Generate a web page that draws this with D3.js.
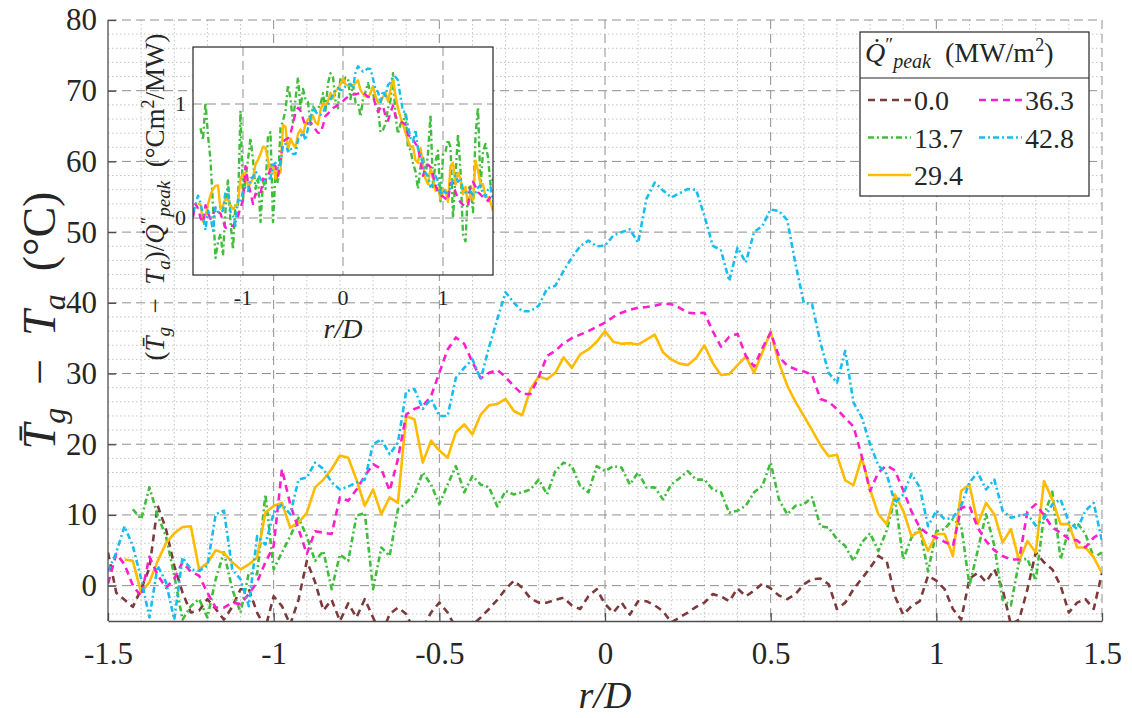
<!DOCTYPE html>
<html>
<head>
<meta charset="utf-8">
<script src="https://cdn.jsdelivr.net/npm/d3@7"></script>
<style>
body { margin: 0; background: #fff; }
svg text { font-family: 'Liberation Serif', 'Times New Roman', 'DejaVu Serif', serif; fill: #262626; }
</style>
</head>
<body>
<script>
// radial position r/D
var rD = [-1.5,-1.475,-1.45,-1.425,-1.4,-1.375,-1.35,-1.325,-1.3,-1.275,
  -1.25,-1.225,-1.2,-1.175,-1.15,-1.125,-1.1,-1.075,-1.05,-1.025,
  -1,-0.975,-0.95,-0.925,-0.9,-0.875,-0.85,-0.825,-0.8,-0.775,
  -0.75,-0.725,-0.7,-0.675,-0.65,-0.625,-0.6,-0.575,-0.55,-0.525,
  -0.5,-0.475,-0.45,-0.425,-0.4,-0.375,-0.35,-0.325,-0.3,-0.275,
  -0.25,-0.225,-0.2,-0.175,-0.15,-0.125,-0.1,-0.075,-0.05,-0.025,
  0,0.025,0.05,0.075,0.1,0.125,0.15,0.175,0.2,0.225,
  0.25,0.275,0.3,0.325,0.35,0.375,0.4,0.425,0.45,0.475,
  0.5,0.525,0.55,0.575,0.6,0.625,0.65,0.675,0.7,0.725,
  0.75,0.775,0.8,0.825,0.85,0.875,0.9,0.925,0.95,0.975,
  1,1.025,1.05,1.075,1.1,1.125,1.15,1.175,1.2,1.225,
  1.25,1.275,1.3,1.325,1.35,1.375,1.4,1.425,1.45,1.475,
  1.5];

// Tg - Ta (degC) for each peak heat flux
var q00 = [4.7,-1.0,-2.0,-3.0,-0.5,2.5,11.3,8.0,2.8,-1.0,
  -3.8,-3.5,-1.9,-3.3,-4.8,-3.0,-0.5,-0.5,-3.8,-6.0,
  -1.5,-2.9,-5.5,-2.0,3.5,0.5,-3.5,-2.0,-5.0,-2.5,
  -4.5,-1.9,-4.5,-7.0,-4.0,-3.1,-4.0,-6.5,-6.0,-3.8,
  -2.4,-3.8,-6.0,-6.5,-5.5,-4.5,-3.3,-2.0,-0.5,0.7,
  -0.3,-1.8,-2.4,-2.4,-2.0,-1.7,-2.8,-3.3,-1.5,-0.5,
  -2.6,-3.8,-2.4,-4.1,-2.2,-2.2,-2.8,-3.6,-5.2,-4.5,
  -3.8,-3.0,-2.4,-1.2,-1.5,-2.2,-0.4,-1.5,-0.7,0.3,
  -0.4,-1.4,-1.9,-1.2,0.2,0.9,1.0,0.2,-3.3,-2.4,
  -0.5,1.0,2.5,4.2,3.5,-1.5,-4.1,-2.9,-2.2,1.4,
  0.7,-0.5,-3.3,-4.8,1.0,1.8,0.5,2.3,-0.5,-5.5,
  -4.8,-0.5,4.7,3.3,2.3,0.0,-3.8,-2.4,-1.9,-3.3,
  1.8];
var q137 = [null,null,null,10.8,9.4,13.9,9.9,7.0,1.4,-4.8,
  -2.9,-1.9,-4.5,0.9,4.7,-0.5,-3.8,1.8,1.6,12.9,
  2.3,4.7,7.0,9.6,7.0,3.5,4.9,-0.5,4.4,3.5,
  9.9,10.3,-0.5,5.4,4.2,10.8,11.7,12.9,16.0,14.3,
  11.5,14.3,16.9,13.2,15.5,14.3,13.9,11.2,13.4,12.9,
  13.2,13.6,15.0,12.9,16.2,17.4,16.9,14.1,13.2,16.9,
  16.2,16.9,16.7,14.3,16.0,13.9,13.9,12.2,14.3,15.2,
  16.2,15.0,15.0,13.6,13.2,10.3,10.6,11.3,13.2,14.1,
  17.4,12.2,10.1,11.3,11.5,12.5,8.4,8.2,6.6,5.6,
  3.5,6.1,7.4,4.9,7.8,12.4,3.7,6.8,8.1,2.0,
  7.7,8.0,9.4,8.5,0.0,5.0,10.1,5.7,-2.0,-2.8,
  3.5,3.8,0.7,9.9,13.3,3.7,8.0,8.9,7.3,4.0,
  4.7];
var q294 = [null,null,3.7,3.5,-1.0,0.5,3.5,6.0,7.4,8.3,
  8.4,2.3,3.2,5.0,4.6,3.3,2.3,3.0,4.0,10.3,
  11.3,11.7,8.2,8.9,10.3,13.9,15.0,16.5,18.4,18.1,
  15.0,11.3,13.6,10.1,12.5,11.7,24.0,23.5,17.4,20.5,
  19.1,18.1,21.7,22.8,21.4,24.2,25.5,25.7,26.4,24.7,
  24.1,27.8,29.6,29.2,30.1,32.3,30.8,32.7,33.4,34.5,
  36.0,34.5,34.2,34.3,34.1,34.8,35.5,33.0,32.0,31.4,
  31.2,32.2,34.0,31.5,29.8,29.9,31.2,32.4,30.1,33.0,
  35.9,31.5,28.3,26.0,24.0,22.0,19.9,18.3,18.5,14.9,
  14.2,18.1,13.6,10.1,8.7,12.9,10.6,7.0,7.7,4.9,
  7.3,7.3,4.2,13.4,14.3,8.7,11.7,10.1,6.1,8.0,
  3.5,6.3,4.7,14.8,12.2,8.7,8.7,5.4,5.4,4.0,
  1.8];
var q363 = [0.3,4.5,3.0,0.0,-1.5,4.1,1.5,-0.3,1.0,3.3,
  2.0,1.4,-1.0,-3.1,-3.1,-2.4,-2.6,-1.2,0.5,3.3,
  5.6,16.5,11.5,8.0,4.5,7.7,7.5,7.3,12.5,12.0,
  13.6,15.5,17.2,16.5,13.4,17.9,24.2,25.0,25.4,26.8,
  30.1,33.4,35.1,34.2,31.6,29.3,30.1,30.5,29.5,28.2,
  27.1,27.1,29.5,32.5,33.2,34.3,35.0,35.5,36.0,36.6,
  37.2,38.0,38.6,39.0,39.3,39.4,39.6,39.9,39.8,39.3,
  38.6,38.5,38.6,36.0,33.8,35.2,35.6,32.5,31.0,33.6,
  35.8,32.4,31.1,30.6,30.3,29.8,26.4,26.0,25.0,23.7,
  22.5,18.3,13.4,16.0,17.0,16.3,13.5,10.5,8.2,7.3,
  6.8,6.2,5.6,11.0,11.3,8.2,6.3,5.0,4.2,3.7,
  3.7,10.5,11.5,10.0,8.2,7.5,6.6,6.4,5.4,6.8,
  7.5];
var q428 = [2.0,4.7,8.4,5.6,1.0,-4.5,2.8,0.5,-4.8,4.0,
  2.3,2.1,2.8,10.1,10.6,2.3,0.9,-2.9,7.0,5.8,
  10.3,11.5,10.1,15.0,15.3,17.4,16.5,14.6,13.6,14.0,
  14.6,15.0,20.0,20.7,18.6,20.2,27.5,27.8,25.0,26.4,
  24.0,24.0,29.4,30.8,32.0,29.2,33.7,37.7,41.5,40.0,
  38.8,38.8,39.6,42.0,42.4,44.5,46.4,48.0,48.8,48.0,
  48.1,49.5,50.0,50.4,48.5,54.7,57.0,55.9,54.9,55.5,
  56.1,56.0,52.3,48.1,47.4,43.1,47.8,45.7,50.0,50.9,
  53.2,53.0,51.7,45.5,40.0,39.8,34.4,30.1,28.7,33.2,
  25.9,23.8,20.0,17.0,15.8,11.7,12.9,15.8,13.9,8.4,
  10.6,9.4,9.6,11.3,14.6,16.0,13.6,15.0,10.6,9.6,
  9.9,10.1,8.5,9.5,11.5,12.2,9.0,8.0,10.6,11.7,
  6.3];

var qPeak = [0.0, 13.7, 29.4, 36.3, 42.8];
var seriesLabels = ["0.0", "13.7", "29.4", "36.3", "42.8"];
var seriesData = [q00, q137, q294, q363, q428];
var seriesColors = ["#7d3a3a", "#41bd3c", "#ffbb00", "#ff1ecb", "#16bdf0"];
var seriesDash = ["7,5", "6,3,2,3", null, "7,5", "6,3,2,3"];

var xTicks = [-1.5, -1, -0.5, 0, 0.5, 1, 1.5];
var xTickLabels = ["-1.5", "-1", "-0.5", "0", "0.5", "1", "1.5"];
var yTicks = [0, 10, 20, 30, 40, 50, 60, 70, 80];
var insetXTicks = [-1, 0, 1];
var insetYTicks = [0, 1];

var serif = "'Liberation Serif', 'Times New Roman', 'DejaVu Serif', serif";

var width = 1132;
var height = 718;
var margin = {left: 108, right: 30, top: 20, bottom: 97};
var plotRight = width - margin.right;
var plotBottom = height - margin.bottom;

var svg = d3.select("body").append("svg").attr("width", width).attr("height", height);

var x = d3.scaleLinear().domain([-1.5, 1.5]).range([margin.left, plotRight]);
var y = d3.scaleLinear().domain([-5, 80]).range([plotBottom, margin.top]);

// minor grid (dotted)
var xMinor = x.ticks(30).filter(function(d) { return Math.abs(d * 2 - Math.round(d * 2)) > 1e-6; });
var yMinor = y.ticks(40).filter(function(d) { return d % 10 != 0; });

var grid = svg.append("g");
grid.selectAll(".vminor").data(xMinor).join("line")
  .attr("x1", function(d) { return x(d); }).attr("x2", function(d) { return x(d); })
  .attr("y1", margin.top).attr("y2", plotBottom)
  .style("stroke", "#c4c4c4").style("stroke-dasharray", "1.5,2.5");
grid.selectAll(".hminor").data(yMinor).join("line")
  .attr("y1", function(d) { return y(d); }).attr("y2", function(d) { return y(d); })
  .attr("x1", margin.left).attr("x2", plotRight)
  .style("stroke", "#c4c4c4").style("stroke-dasharray", "1.5,2.5");
// major grid (dashed)
grid.selectAll(".vmajor").data(xTicks.slice(1)).join("line")
  .attr("x1", function(d) { return x(d); }).attr("x2", function(d) { return x(d); })
  .attr("y1", margin.top).attr("y2", plotBottom)
  .style("stroke", "#8f8f8f").style("stroke-dasharray", "9,5");
grid.selectAll(".hmajor").data(yTicks).join("line")
  .attr("y1", function(d) { return y(d); }).attr("y2", function(d) { return y(d); })
  .attr("x1", margin.left).attr("x2", plotRight)
  .style("stroke", "#8f8f8f").style("stroke-dasharray", "9,5");

svg.append("clipPath").attr("id", "mainclip").append("rect")
  .attr("x", margin.left).attr("y", margin.top)
  .attr("width", plotRight - margin.left).attr("height", plotBottom - margin.top);

var mainLine = d3.line()
  .defined(function(d) { return d[1] != null; })
  .x(function(d) { return x(d[0]); })
  .y(function(d) { return y(d[1]); });

var lines = svg.append("g").attr("clip-path", "url(#mainclip)");
seriesData.forEach(function(s, k) {
  lines.append("path")
    .datum(rD.map(function(r, i) { return [r, s[i]]; }))
    .attr("d", mainLine)
    .style("fill", "none")
    .style("stroke", seriesColors[k])
    .style("stroke-width", 2.6)
    .style("stroke-linejoin", "round")
    .style("stroke-dasharray", seriesDash[k]);
});

// axes (MATLAB style, ticks inside)
var xAxis = d3.axisBottom(x).tickValues(xTicks)
  .tickFormat(function(d, i) { return xTickLabels[i]; })
  .tickSizeInner(-8).tickSizeOuter(0).tickPadding(21);
var yAxis = d3.axisLeft(y).tickValues(yTicks)
  .tickSizeInner(-8).tickSizeOuter(0).tickPadding(11);

var gx = svg.append("g").attr("transform", "translate(0," + plotBottom + ")").call(xAxis);
var gy = svg.append("g").attr("transform", "translate(" + margin.left + ",0)").call(yAxis);
[gx, gy].forEach(function(g) {
  g.attr("font-family", null);
  g.select(".domain").style("stroke", "#4d4d4d").style("stroke-width", 1.3);
  g.selectAll(".tick line").style("stroke", "#4d4d4d").style("stroke-width", 1.3);
  g.selectAll(".tick text").style("font-size", "31px").style("font-family", serif).style("fill", "#262626");
});
gy.select(".domain").attr("d", "M0," + plotBottom + "V" + margin.top);

// x label
svg.append("text")
  .attr("x", x(0)).attr("y", 708)
  .style("text-anchor", "middle").style("font-size", "38px").style("font-style", "italic")
  .text("r/D");

// y label
var ylab = svg.append("text")
  .attr("transform", "translate(55," + ((margin.top + plotBottom) / 2) + ") rotate(-90)")
  .style("text-anchor", "middle").style("font-size", "46px");
ylab.append("tspan").style("font-style", "italic").text("T\u0304");
ylab.append("tspan").style("font-style", "italic").style("font-size", "32px").attr("dy", 10).text("g");
ylab.append("tspan").attr("dy", -10).text("\u2002\u2212\u2002");
ylab.append("tspan").style("font-style", "italic").text("T");
ylab.append("tspan").style("font-style", "italic").style("font-size", "32px").attr("dy", 10).text("a");
ylab.append("tspan").attr("dy", -10).text("\u2002(\u00B0C)");

// ---- inset ----
var ix = d3.scaleLinear().domain([-1.5, 1.5]).range([193, 493]);
var iy = d3.scaleLinear().domain([-0.5, 1.5]).range([275, 47]);

var inset = svg.append("g");
inset.append("rect")
  .attr("x", ix.range()[0]).attr("y", iy.range()[1])
  .attr("width", ix.range()[1] - ix.range()[0]).attr("height", iy.range()[0] - iy.range()[1])
  .style("fill", "#fff");
inset.selectAll(".ivgrid").data(insetXTicks).join("line")
  .attr("x1", function(d) { return ix(d); }).attr("x2", function(d) { return ix(d); })
  .attr("y1", iy.range()[1]).attr("y2", iy.range()[0])
  .style("stroke", "#8f8f8f").style("stroke-dasharray", "9,5");
inset.selectAll(".ihgrid").data(insetYTicks).join("line")
  .attr("y1", function(d) { return iy(d); }).attr("y2", function(d) { return iy(d); })
  .attr("x1", ix.range()[0]).attr("x2", ix.range()[1])
  .style("stroke", "#8f8f8f").style("stroke-dasharray", "9,5");

svg.append("clipPath").attr("id", "insetclip").append("rect")
  .attr("x", ix.range()[0]).attr("y", iy.range()[1])
  .attr("width", ix.range()[1] - ix.range()[0]).attr("height", iy.range()[0] - iy.range()[1]);

var insetLine = d3.line()
  .defined(function(d) { return d[1] != null; })
  .x(function(d) { return ix(d[0]); })
  .y(function(d) { return iy(d[1]); });

var ilines = inset.append("g").attr("clip-path", "url(#insetclip)");
seriesData.forEach(function(s, k) {
  if (qPeak[k] == 0) return;
  ilines.append("path")
    .datum(rD.map(function(r, i) { return [r, s[i] == null ? null : s[i] / qPeak[k]]; }))
    .attr("d", insetLine)
    .style("fill", "none")
    .style("stroke", seriesColors[k])
    .style("stroke-width", 2.4)
    .style("stroke-linejoin", "round")
    .style("stroke-dasharray", seriesDash[k]);
});

inset.append("rect")
  .attr("x", ix.range()[0]).attr("y", iy.range()[1])
  .attr("width", ix.range()[1] - ix.range()[0]).attr("height", iy.range()[0] - iy.range()[1])
  .style("fill", "none").style("stroke", "#262626").style("stroke-width", 1.2);

inset.selectAll(".ixlab").data(insetXTicks).join("text")
  .attr("x", function(d) { return ix(d); }).attr("y", 305)
  .style("text-anchor", "middle").style("font-size", "22px")
  .text(function(d) { return d == -1 ? "-1" : d; });
inset.selectAll(".iylab").data(insetYTicks).join("text")
  .attr("x", 186).attr("y", function(d) { return iy(d) + 7; })
  .style("text-anchor", "end").style("font-size", "22px")
  .text(function(d) { return d; });

inset.append("text")
  .attr("x", ix(0)).attr("y", 338)
  .style("text-anchor", "middle").style("font-size", "28px").style("font-style", "italic")
  .text("r/D");

var iylab = inset.append("text")
  .attr("transform", "translate(164,197) rotate(-90)")
  .style("text-anchor", "middle").style("font-size", "27px");
iylab.append("tspan").text("(");
iylab.append("tspan").style("font-style", "italic").text("T\u0304");
iylab.append("tspan").style("font-style", "italic").style("font-size", "19px").attr("dy", 6).text("g");
iylab.append("tspan").attr("dy", -6).text("\u2002\u2212\u2002");
iylab.append("tspan").style("font-style", "italic").text("T");
iylab.append("tspan").style("font-style", "italic").style("font-size", "19px").attr("dy", 6).text("a");
iylab.append("tspan").attr("dy", -6).text(")/");
iylab.append("tspan").style("font-style", "italic").text("Q\u0307");
iylab.append("tspan").style("font-size", "18px").attr("dy", -10).text("\u2033");
iylab.append("tspan").style("font-style", "italic").style("font-size", "19px").attr("dy", 16).text("peak");
iylab.append("tspan").attr("dy", -6).text("\u2002(\u00B0Cm");
iylab.append("tspan").style("font-size", "18px").attr("dy", -10).text("2");
iylab.append("tspan").attr("dy", 10).text("/MW)");

// ---- legend ----
var legX = 860, legY = 32, legW = 229, legH = 164, legTitleH = 46;
var legend = svg.append("g");
legend.append("rect")
  .attr("x", legX).attr("y", legY).attr("width", legW).attr("height", legH)
  .style("fill", "#fff").style("stroke", "#262626").style("stroke-width", 1.2);
legend.append("line")
  .attr("x1", legX).attr("x2", legX + legW)
  .attr("y1", legY + legTitleH).attr("y2", legY + legTitleH)
  .style("stroke", "#262626").style("stroke-width", 1.2);

var ltitle = legend.append("text").attr("x", legX + 5).attr("y", legY + 30).style("font-size", "28px");
ltitle.append("tspan").style("font-style", "italic").text("Q\u0307");
ltitle.append("tspan").style("font-size", "19px").attr("dy", -11).text("\u2033");
ltitle.append("tspan").style("font-style", "italic").style("font-size", "20px").attr("dy", 17).text("peak");
ltitle.append("tspan").attr("dy", -6).text("\u2002(MW/m");
ltitle.append("tspan").style("font-size", "18px").attr("dy", -11).text("2");
ltitle.append("tspan").attr("dy", 11).text(")");

var legCol = [0, 0, 0, 1, 1];
var legRow = [0, 1, 2, 0, 1];
seriesLabels.forEach(function(lab, k) {
  var lx = legX + 8 + legCol[k] * 111;
  var ly = legY + 68 + legRow[k] * 37.5;
  legend.append("line")
    .attr("x1", lx).attr("x2", lx + 43).attr("y1", ly).attr("y2", ly)
    .style("stroke", seriesColors[k]).style("stroke-width", 2.6)
    .style("stroke-dasharray", seriesDash[k]);
  legend.append("text")
    .attr("x", lx + 46).attr("y", ly + 10)
    .style("font-size", "28px")
    .text(lab);
});
</script>
</body>
</html>
